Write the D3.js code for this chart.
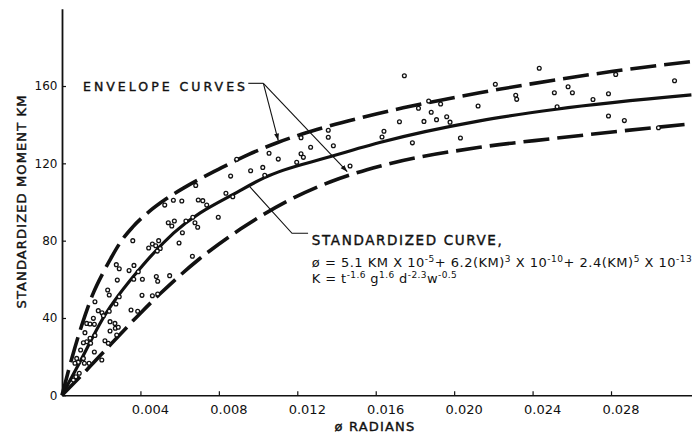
<!DOCTYPE html>
<html>
<head>
<meta charset="utf-8">
<script src="https://cdn.jsdelivr.net/npm/d3@7"></script>
<style>
  html, body { margin: 0; padding: 0; background: #fff; }
  svg { display: block; }
  text { font-family: "DejaVu Sans", sans-serif; fill: #111; }
  .lettering { stroke: #111; stroke-width: 0.4; }
</style>
</head>
<body>
<div id="chart"></div>
<script>
// tick values
const phiTicks = [0.004, 0.008, 0.012, 0.016, 0.020, 0.024, 0.028];
const kmTicks = [0, 40, 80, 120, 160];

// curves, [phi radians, standardized moment KM]
const standardCurve = [
  [0, 0], [0.0009, 17], [0.0021, 40], [0.0041, 67], [0.0057, 84], [0.0091, 106],
  [0.0103, 112.5], [0.0137, 123.5], [0.0162, 130.8], [0.0213, 142], [0.0252, 148], [0.0321, 155.4]
];
const upperEnvelope = [
  [0, 0], [0.0005, 19], [0.001, 36], [0.0016, 53], [0.0021, 63.5], [0.0025, 71], [0.003, 79.5],
  [0.0036, 87], [0.0045, 95.5], [0.0053, 101.5], [0.0065, 109], [0.0080, 117], [0.0095, 124.5],
  [0.0110, 130.8], [0.0130, 137.5], [0.0154, 144], [0.0174, 148.7], [0.0213, 156.5], [0.0254, 163.5],
  [0.0281, 167.6], [0.0321, 172.6]
];
const lowerEnvelope = [
  [0, 0], [0.00125, 13], [0.0025, 26.5], [0.004, 42.5], [0.005, 52.5], [0.007, 70.5], [0.0091, 86],
  [0.0115, 100.5], [0.0137, 110.5], [0.0162, 118.5], [0.0213, 128.3], [0.0252, 133], [0.0321, 140.5]
];

// test points, [phi, KM]
const observations = [
  [0.01746,165.3],[0.02434,169.2],[0.02210,160.9],[0.02314,155.2],[0.02319,153.1],[0.02511,156.5],
  [0.02581,159.6],[0.02603,156.5],[0.02708,153.0],[0.02787,156.0],[0.02824,166.0],[0.03124,162.7],
  [0.01818,148.5],[0.01931,150.7],[0.01883,146.4],[0.01846,141.7],[0.01910,142.6],[0.01962,144.1],
  [0.01979,141.3],[0.02122,149.7],[0.02525,149.3],[0.02787,144.5],[0.02868,142.1],[0.03042,138.4],
  [0.01787,130.6],[0.02032,133.1],[0.01870,152.2],[0.01721,141.5],[0.01642,136.6],[0.01632,133.6],
  [0.01358,137.1],[0.01358,133.5],[0.01384,129.1],[0.01219,133.3],[0.01268,128.3],[0.01219,125.0],
  [0.01231,123.1],[0.01197,120.5],[0.01056,125.2],[0.01103,122.2],[0.00891,122.1],[0.00962,116.2],
  [0.01024,117.9],[0.01034,113.8],[0.01469,118.6],
  [0.00860,113.4],[0.00682,108.6],[0.00836,104.5],[0.00871,102.7],[0.00568,100.9],[0.00611,100.5],
  [0.00695,101.0],[0.00718,100.7],[0.00524,98.4],[0.00738,98.4],[0.00797,92.1],[0.00542,89.3],
  [0.00573,90.2],[0.00560,87.6],[0.00632,90.2],[0.00667,92.1],[0.00678,89.3],[0.00692,86.9],
  [0.00614,84.1],[0.00597,78.8],[0.00361,80.0],[0.00442,76.2],[0.00461,78.3],[0.00478,77.4],
  [0.00493,80.0],[0.00501,76.0],[0.00486,74.6],[0.00665,71.9],[0.00277,67.6],[0.00292,65.5],
  [0.00342,64.5],[0.00367,67.2],[0.00389,63.9],[0.00366,60.0],[0.00410,60.0],[0.00481,61.4],
  [0.00488,59.0],[0.00549,61.9],[0.00282,59.6],[0.00233,54.5],[0.00241,51.9],[0.00292,51.0],
  [0.00408,51.7],[0.00461,51.5],[0.00488,52.4],[0.00275,47.2],[0.00352,44.1],[0.00386,43.5],
  [0.00168,48.4],[0.00185,43.8],[0.00204,42.7],[0.00241,43.5],[0.00160,39.8],[0.00211,41.2],
  [0.00126,37.2],[0.00143,36.9],[0.00165,36.7],[0.00245,38.1],[0.00270,37.2],[0.00272,34.7],
  [0.00287,35.2],[0.00245,33.3],[0.00279,31.2],[0.00219,28.2],[0.00236,26.9],[0.00117,32.4],
  [0.00126,27.7],[0.00146,26.9],[0.00168,31.0],[0.00143,29.5],[0.00109,27.2],[0.00165,22.4],
  [0.00095,23.4],[0.00075,19.1],[0.00109,19.1],[0.00083,17.1],[0.00114,16.6],[0.00138,16.6],
  [0.00066,16.6],[0.00203,18.3],[0.00088,11.4],[0.00058,7.9],[0.00071,9.6]
];

// annotation anchors in data units
const envelopeLabel = { at: [0.00107, 157.6], text: "ENVELOPE CURVES" };
const envelopeLeader = [[0.00950, 161.4], [0.01027, 161.4]];
const envelopeTips = [[0.01103, 131.8], [0.01455, 115.7]];
const curveLeader = [[0.01255, 83.8], [0.01173, 83.8], [0.00954, 108.3]];
const curveLabel = { at: [0.01274, 77.8], text: "STANDARDIZED CURVE," };
const formulaAt = [[0.01274, 66.5], [0.01274, 57.9]];

const width = 692, height = 438;

const svg = d3.select("#chart").append("svg")
  .attr("width", width)
  .attr("height", height);

svg.append("rect").attr("width", width).attr("height", height).attr("fill", "#fff");

const x = d3.scaleLinear().domain([0, 0.03213]).range([62, 692]);
const y = d3.scaleLinear().domain([0, 200]).range([395.3, 8.7]);

svg.append("defs").append("marker")
  .attr("id", "arrow")
  .attr("viewBox", "0 0 10 10")
  .attr("refX", 10).attr("refY", 5)
  .attr("markerWidth", 7).attr("markerHeight", 7)
  .attr("markerUnits", "userSpaceOnUse")
  .attr("orient", "auto")
  .append("path")
  .attr("d", "M0,1.5L10,5L0,8.5Z")
  .attr("fill", "#111");

// axes
const xAxis = svg.append("g")
  .attr("transform", `translate(0,${y(0)})`)
  .call(d3.axisBottom(x).tickValues(phiTicks).tickSize(-4).tickSizeOuter(0)
    .tickPadding(9).tickFormat(d3.format(".3f")));
xAxis.select(".domain").attr("stroke", "#111").attr("stroke-width", 1.6);
xAxis.selectAll(".tick line").attr("stroke", "#111").attr("stroke-width", 1.2);
xAxis.selectAll(".tick text")
  .attr("dx", 9.5)
  .attr("font-size", 13)
  .attr("font-family", "DejaVu Sans, sans-serif")
  .attr("fill", "#111");

const yAxis = svg.append("g")
  .attr("transform", `translate(${x(0)},0)`)
  .call(d3.axisLeft(y).tickValues(kmTicks).tickSize(-4).tickSizeOuter(0).tickPadding(4.5));
yAxis.select(".domain").attr("stroke", "#111").attr("stroke-width", 1.8);
yAxis.selectAll(".tick line").attr("stroke", "#111").attr("stroke-width", 1.2);
yAxis.selectAll(".tick text")
  .attr("font-size", 12)
  .attr("font-family", "DejaVu Sans, sans-serif")
  .attr("fill", "#111");

// axis titles
svg.append("text")
  .attr("class", "lettering")
  .attr("transform", `translate(26,${(y(0) + y(200)) / 2}) rotate(-90)`)
  .attr("text-anchor", "middle")
  .attr("font-size", 13)
  .attr("textLength", 213)
  .attr("lengthAdjust", "spacing")
  .text("STANDARDIZED MOMENT KM");

svg.append("text")
  .attr("class", "lettering")
  .attr("x", 375)
  .attr("y", 431)
  .attr("text-anchor", "middle")
  .attr("font-size", 13)
  .attr("letter-spacing", 1.2)
  .text("ø RADIANS");

// curves
const line = d3.line()
  .x(d => x(d[0]))
  .y(d => y(d[1]))
  .curve(d3.curveMonotoneX);

svg.append("path")
  .datum(standardCurve)
  .attr("fill", "none")
  .attr("stroke", "#111")
  .attr("stroke-width", 3.2)
  .attr("d", line);

[upperEnvelope, lowerEnvelope].forEach(curve => {
  svg.append("path")
    .datum(curve)
    .attr("fill", "none")
    .attr("stroke", "#111")
    .attr("stroke-width", 3.6)
    .attr("stroke-dasharray", "26,8")
    .attr("d", line);
});

// observations
svg.append("g")
  .selectAll("circle")
  .data(observations)
  .join("circle")
  .attr("cx", d => x(d[0]))
  .attr("cy", d => y(d[1]))
  .attr("r", 1.9)
  .attr("fill", "#fff")
  .attr("stroke", "#111")
  .attr("stroke-width", 1.3);

// envelope annotation
svg.append("text")
  .attr("class", "lettering")
  .attr("x", x(envelopeLabel.at[0]))
  .attr("y", y(envelopeLabel.at[1]))
  .attr("font-size", 12.5)
  .attr("textLength", 162)
  .attr("lengthAdjust", "spacing")
  .text(envelopeLabel.text);

svg.append("path")
  .datum(envelopeLeader)
  .attr("fill", "none")
  .attr("stroke", "#111")
  .attr("stroke-width", 1.1)
  .attr("d", d3.line().x(d => x(d[0])).y(d => y(d[1])));

envelopeTips.forEach(tip => {
  svg.append("path")
    .datum([envelopeLeader[1], tip])
    .attr("fill", "none")
    .attr("stroke", "#111")
    .attr("stroke-width", 1.1)
    .attr("marker-end", "url(#arrow)")
    .attr("d", d3.line().x(d => x(d[0])).y(d => y(d[1])));
});

// standardized curve annotation
svg.append("path")
  .datum(curveLeader)
  .attr("fill", "none")
  .attr("stroke", "#111")
  .attr("stroke-width", 1.1)
  .attr("d", d3.line().x(d => x(d[0])).y(d => y(d[1])));

svg.append("text")
  .attr("class", "lettering")
  .attr("x", x(curveLabel.at[0]))
  .attr("y", y(curveLabel.at[1]))
  .attr("font-size", 13.5)
  .attr("textLength", 190)
  .attr("lengthAdjust", "spacing")
  .text(curveLabel.text);

// formula lines: plain text and superscripts
const formula1 = [
  ["ø = 5.1 KM X 10", false], ["-5", true], ["+ 6.2(KM)", false], ["3", true],
  [" X 10", false], ["-10", true], ["+ 2.4(KM)", false], ["5", true], [" X 10", false], ["-13", true]
];
const formula2 = [
  ["K = t", false], ["-1.6", true], [" g", false], ["1.6", true], [" d", false], ["-2.3", true],
  ["w", false], ["-0.5", true]
];

function drawFormula(parts, at, len) {
  const t = svg.append("text")
    .attr("x", x(at[0]))
    .attr("y", y(at[1]))
    .attr("font-size", 13)
    .attr("textLength", len)
    .attr("lengthAdjust", "spacing");
  let raised = false;
  parts.forEach(([s, sup]) => {
    const dy = sup === raised ? 0 : (sup ? -5 : 5);
    raised = sup;
    t.append("tspan")
      .attr("dy", dy)
      .attr("font-size", sup ? 9 : 13)
      .text(s);
  });
}
drawFormula(formula1, formulaAt[0], 380);
drawFormula(formula2, formulaAt[1], 145);
</script>
</body>
</html>
